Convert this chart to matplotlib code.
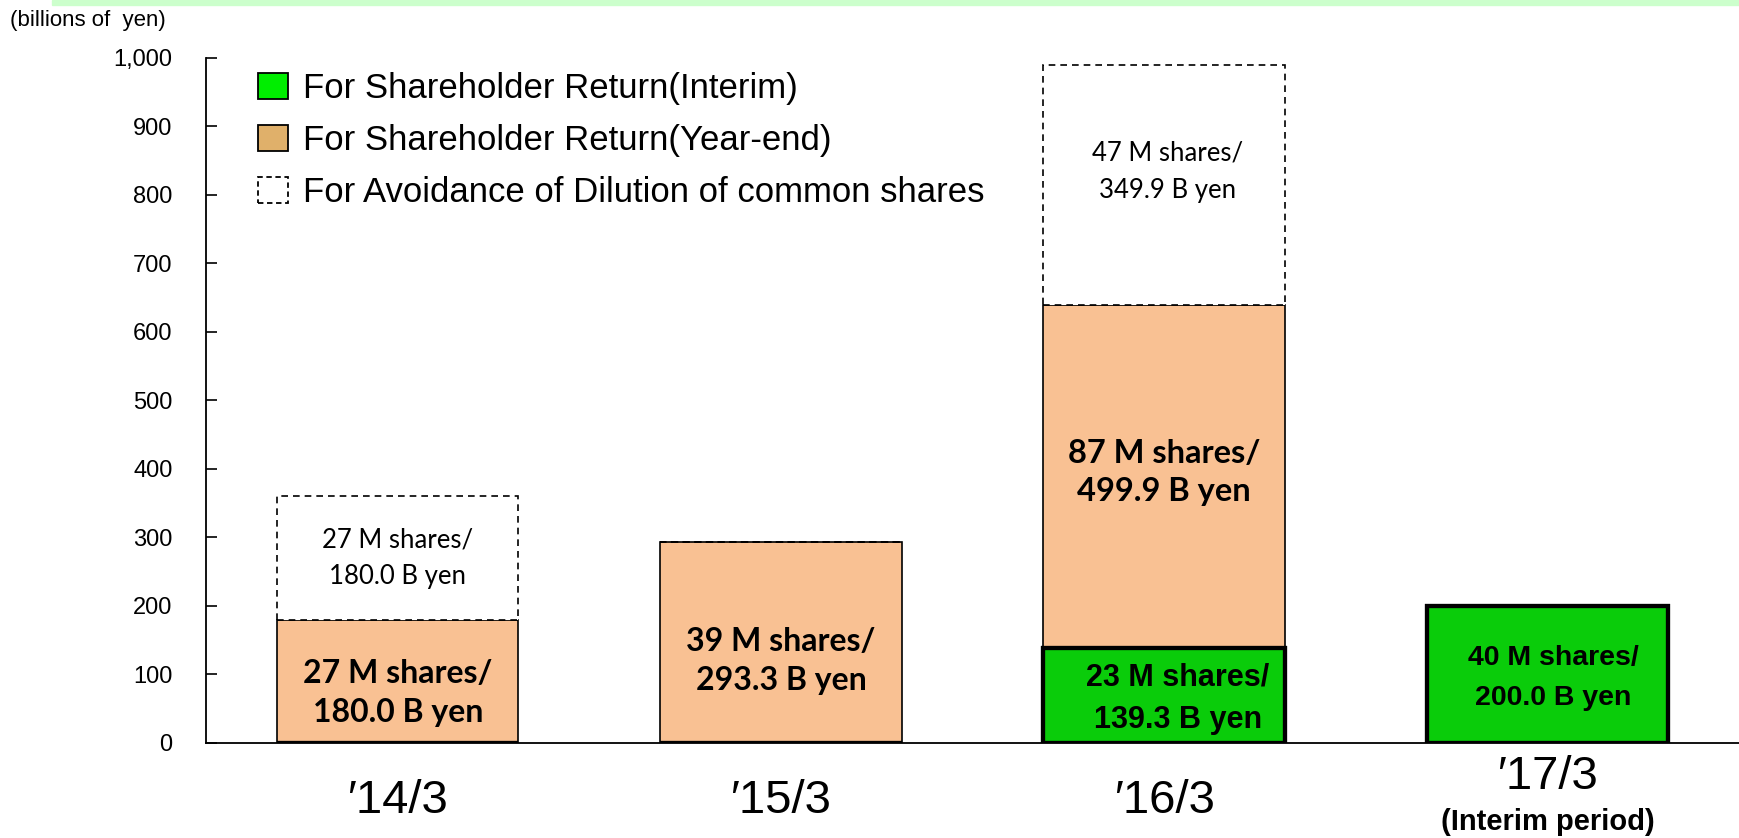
import matplotlib
matplotlib.use("Agg")
import matplotlib.pyplot as plt
from matplotlib.patches import Patch

plt.rcParams['font.family'] = ['Liberation Sans', 'DejaVu Sans']

# Data (billions of yen)
periods = ['\u203214/3', '\u203215/3', '\u203216/3', '\u203217/3']
interim = [0, 0, 139.3, 200.0]
year_end = [180.0, 293.3, 499.9, 0]
dilution = [180.0, 0, 349.9, 0]

interim_txt = ['', '', '23 M shares/\n139.3 B yen', '40 M shares/\n200.0 B yen']
year_end_txt = ['27 M shares/\n180.0 B yen', '39 M shares/\n293.3 B yen', '87 M shares/\n499.9 B yen', '']
dilution_txt = ['27 M shares/\n180.0 B yen', '', '47 M shares/\n349.9 B yen', '']

# label centres (data units)
interim_y = [0, 0, 64, 95]
year_end_y = [73, 120, 395, 0]
dilution_y = [270, 0, 834, 0]
interim_fs = [0, 0, 22, 20.5]
year_end_fs = [23, 23, 23.5, 0]

green = '#0acc0a'
orange = '#f9c193'

fig = plt.figure(figsize=(17.39, 8.38), dpi=100)
ax = fig.add_axes([0.1185, 0.1134, 0.8815, 0.8174])

# thin light green band at top
fig.patches.append(plt.Rectangle((0.03, 0.994), 0.97, 0.006, transform=fig.transFigure,
                                 color='#ccffcc', zorder=0))

x = list(range(len(periods)))
w = 0.63

ax.bar(x, interim, w, color=green, edgecolor='black', linewidth=3, zorder=3)
ax.bar(x, year_end, w, bottom=interim, color=orange, edgecolor='black', linewidth=1.2, zorder=2)
dil_bottom = [a + b for a, b in zip(interim, year_end)]
ax.bar(x, dilution, w, bottom=dil_bottom, color='white', edgecolor='black', linewidth=1.2,
       linestyle=(0, (4, 3)), zorder=2)
# keep the green bar outlines on top
ax.bar(x, interim, w, color='none', edgecolor='black', linewidth=3, zorder=4)

for i in x:
    if interim_txt[i]:
        ax.text(i + (0.035 if i == 2 else 0.015), interim_y[i], interim_txt[i], ha='center',
                va='center', fontsize=interim_fs[i], fontweight='bold',
                linespacing=1.55 if i == 2 else 1.7, zorder=5)
    if year_end_txt[i]:
        ax.text(i, year_end_y[i], year_end_txt[i], ha='center', va='center',
                fontsize=year_end_fs[i], fontweight='bold', family=['Lato', 'DejaVu Sans'],
                linespacing=1.4, zorder=5)
    if dilution_txt[i]:
        ax.text(i + (0.01 if i == 2 else 0), dilution_y[i], dilution_txt[i], ha='center',
                va='center', fontsize=18.5, family=['Lato', 'DejaVu Sans'], linespacing=1.6,
                zorder=5)

ax.set_xlim(-0.5, 3.5)
ax.set_ylim(0, 1000)
ax.set_yticks(range(0, 1001, 100))
ax.set_yticklabels([f'{v:,}' for v in range(0, 1001, 100)], fontsize=17)
ax.tick_params(axis='y', direction='in', length=8, width=1.2, pad=24)
ax.set_xticks([])
for s in ['top', 'right']:
    ax.spines[s].set_visible(False)
ax.spines['left'].set_linewidth(1.3)
ax.spines['bottom'].set_linewidth(1.3)

trans = ax.get_xaxis_transform()
for i in range(3):
    ax.text(i, -0.085, periods[i], transform=trans, ha='center', va='center', fontsize=34)
ax.text(3, -0.05, periods[3], transform=trans, ha='center', va='center', fontsize=34)
ax.text(3, -0.115, '(Interim period)', transform=trans, ha='center', va='center',
        fontsize=21, fontweight='bold')

fig.text(0.006, 0.976, '(billions of  yen)', ha='left', va='center', fontsize=16)

handles = [Patch(facecolor='#00ee00', edgecolor='black', linewidth=1.3),
           Patch(facecolor='#e0b06a', edgecolor='black', linewidth=1.3),
           Patch(facecolor='white', edgecolor='black', linewidth=1.3, linestyle=(0, (3, 2)))]
labels = ['For Shareholder Return(Interim)', 'For Shareholder Return(Year-end)',
          'For Avoidance of Dilution of common shares']
ax.legend(handles, labels, loc='upper left', bbox_to_anchor=(0.025, 1.0), frameon=False,
          fontsize=25, handlelength=0.85, handleheight=0.8, handletextpad=0.45,
          labelspacing=0.55, borderaxespad=0)

fig.savefig('out.png', dpi=100)
